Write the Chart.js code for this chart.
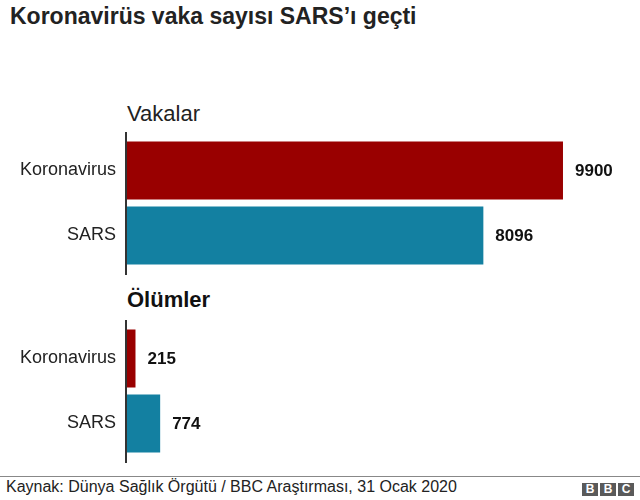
<!DOCTYPE html>
<html><head><meta charset="utf-8">
<script src="https://cdn.jsdelivr.net/npm/chart.js@4"></script>
<style>
html,body{margin:0;padding:0;background:#fff;width:640px;height:500px;overflow:hidden;font-family:"Liberation Sans",Arial,sans-serif;color:#222}
#title{position:absolute;left:10px;top:3px;font-size:23px;font-weight:bold;color:#222;white-space:nowrap}
.sub{position:absolute;left:127px;white-space:nowrap;font-size:22px}
#s1{top:101px}
#s2{top:287px;font-weight:bold;color:#111}
.cv{position:absolute;left:0}
#c1{top:128px}
#c2{top:316px}
#foot{position:absolute;left:0;top:476px;width:640px;border-top:1px solid #888}
#src{position:absolute;left:6px;top:478px;font-size:16px;color:#222;white-space:nowrap}
#bbc{position:absolute;left:582px;top:483px;display:flex;gap:2px}
#bbc span{display:block;width:16px;height:13px;background:#5a5a5a;color:#fff;font-weight:bold;font-size:12px;line-height:13px;text-align:center}
</style></head><body>
<div id="title">Koronavirüs vaka sayısı SARS’ı geçti</div>
<div class="sub" id="s1">Vakalar</div>
<div class="sub" id="s2">Ölümler</div>
<canvas class="cv" id="c1" width="640" height="150"></canvas>
<canvas class="cv" id="c2" width="640" height="150"></canvas>
<div id="foot"></div>
<div id="src">Kaynak: Dünya Sağlık Örgütü / BBC Araştırması, 31 Ocak 2020</div>
<div id="bbc"><span>B</span><span>B</span><span>C</span></div>
<script>
const categories = ["Koronavirus", "SARS"];
const cases = [9900, 8096];
const deaths = [215, 774];
const barColors = ["#990000", "#1380A1"];
const xMax = 10000;

const valueLabels = {
  id: 'valueLabels',
  afterDatasetsDraw(chart) {
    const ctx = chart.ctx;
    const meta = chart.getDatasetMeta(0);
    const area = chart.chartArea;
    ctx.save();
    // axis line, extending slightly beyond the category band
    ctx.strokeStyle = '#333';
    ctx.lineWidth = 2;
    ctx.beginPath();
    ctx.moveTo(area.left, area.top - 6);
    ctx.lineTo(area.left, area.bottom + 7);
    ctx.stroke();
    ctx.font = 'bold 17px "Liberation Sans", Arial, sans-serif';
    ctx.fillStyle = '#111';
    ctx.textBaseline = 'middle';
    ctx.textAlign = 'left';
    meta.data.forEach((bar, i) => {
      ctx.fillText(String(chart.data.datasets[0].data[i]), bar.x + 12, bar.y + 1);
    });
    ctx.restore();
  }
};

function makeChart(id, values) {
  return new Chart(document.getElementById(id), {
    type: 'bar',
    data: {
      labels: categories,
      datasets: [{ data: values, backgroundColor: barColors, barPercentage: 0.892, categoryPercentage: 1 }]
    },
    options: {
      indexAxis: 'y',
      responsive: false,
      animation: false,
      events: [],
      layout: { padding: { left: 0, right: 640 - 126 - 441.4, top: 10, bottom: 10 } },
      plugins: { legend: { display: false }, tooltip: { enabled: false }, title: { display: false } },
      scales: {
        x: { display: false, min: 0, max: xMax },
        y: {
          afterFit(scale) { scale.width = 126; scale.paddingTop = 0; scale.paddingBottom = 0; },
          grid: { display: false, drawTicks: false },
          border: { display: false },
          ticks: { color: '#222', padding: 10, font: { family: '"Liberation Sans", Arial, sans-serif', size: 18 } }
        }
      }
    },
    plugins: [valueLabels]
  });
}
makeChart('c1', cases);
makeChart('c2', deaths);
</script>
</body></html>
